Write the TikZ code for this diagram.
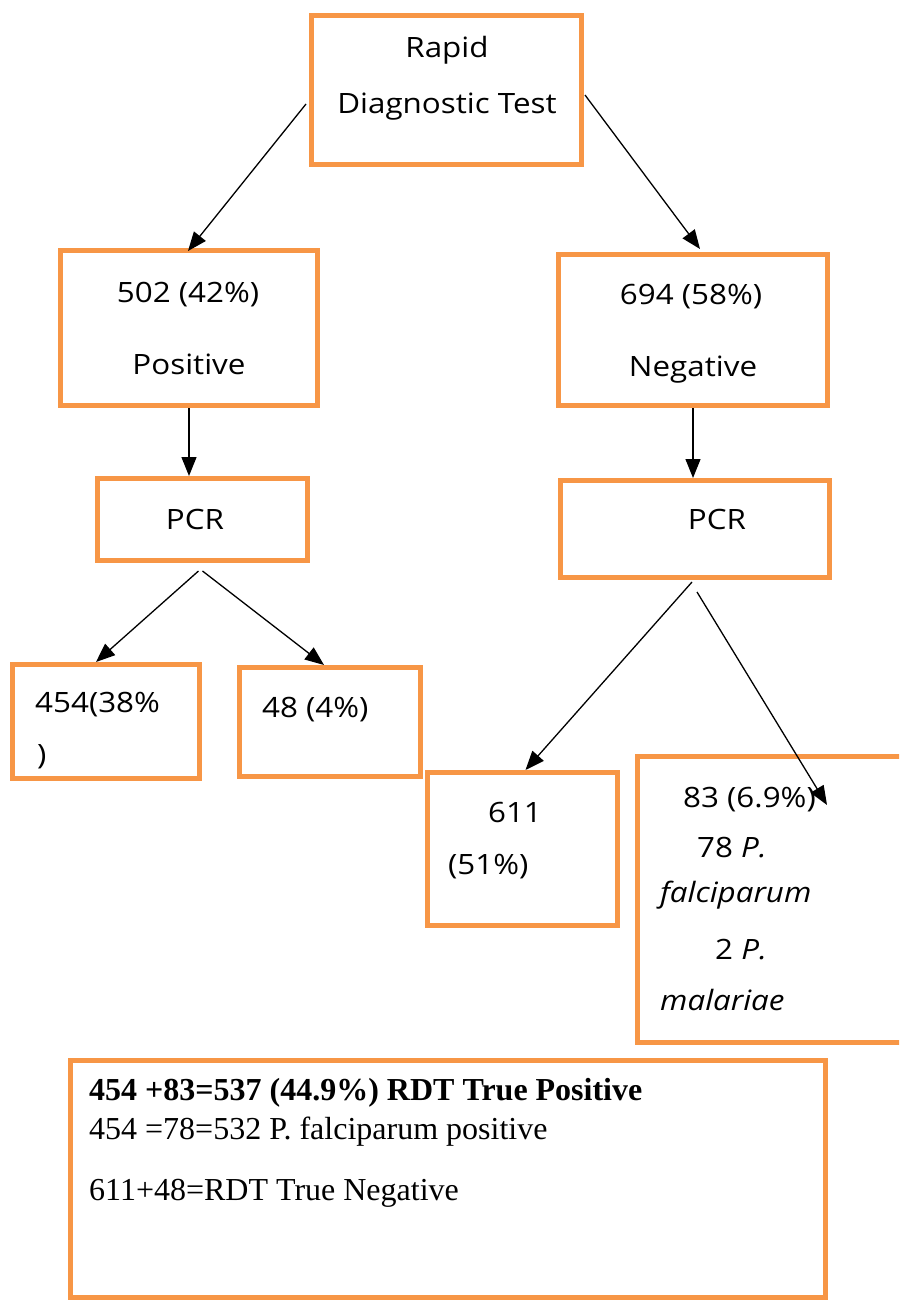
\documentclass[tikz,border=0pt]{standalone}
\usepackage{fontspec}
\setmainfont{Liberation Serif}
\newfontfamily\handfont[FakeStretch=1.12]{Open Sans}
\usetikzlibrary{arrows.meta,calc}
\definecolor{boxorange}{RGB}{247,150,70}
\begin{document}
\begin{tikzpicture}[x=1pt,y=-1pt,
  obox/.style={draw=boxorange,line width=5pt,rectangle,inner sep=0pt},
  hand/.style={font=\handfont\fontsize{28}{32}\selectfont,inner sep=0pt},
  note/.style={font=\fontsize{32}{36}\selectfont,inner sep=0pt,anchor=west},
  arr/.style={line width=1.3pt,-{Triangle[length=19pt,width=15pt]}}]
\useasboundingbox (0,0) rectangle (899,1300);
\clip (0,0) rectangle (899,1300);
\fill[white] (0,0) rectangle (899,1300);
% boxes
\node[obox,minimum width=270pt,minimum height=149pt] (rdt) at (446.5,90) {};
\node[obox,minimum width=257pt,minimum height=155pt] (pos) at (189,328) {};
\node[obox,minimum width=269pt,minimum height=151pt] (neg) at (693,330) {};
\node[obox,minimum width=210pt,minimum height=82pt] (pcrL) at (202.5,519.5) {};
\node[obox,minimum width=269pt,minimum height=97pt] (pcrR) at (695,529) {};
\node[obox,minimum width=187pt,minimum height=114pt] (b454) at (106,721.5) {};
\node[obox,minimum width=181pt,minimum height=109pt] (b48) at (330,722) {};
\node[obox,minimum width=190pt,minimum height=153pt] (b611) at (522.5,849) {};
\node[obox,minimum width=295pt,minimum height=286pt] (b83) at (785,899.5) {};
\node[obox,minimum width=755pt,minimum height=237pt] (sum) at (448,1179) {};
% texts
\node[hand] (t1) at (447,50) {Rapid};
\node[hand] (t2) at (447,107) {Diagnostic Test};
\node[hand] (t3) at (188,295) {502 (42\%)};
\node[hand] (t4) at (189,364) {Positive};
\node[hand] (t5) at (691,297) {694 (58\%)};
\node[hand] (t6) at (693,370) {Negative};
\node[hand] (t7) at (195,519) {PCR};
\node[hand] (t8) at (717,519) {PCR};
\node[hand,anchor=west] (t9) at (35,705) {454(38\%};
\node[hand,anchor=west] (t10) at (37,757) {)};
\node[hand,anchor=west] (t11) at (262,710) {48 (4\%)};
\node[hand] (t12) at (515,812) {611};
\node[hand,anchor=west] (t13) at (448,867) {(51\%)};
\node[hand,anchor=west] (t14) at (683,800) {83 (6.9\%)};
\node[hand,anchor=west] (t15) at (697,848) {78 \itshape P.};
\node[hand,anchor=west] (t16) at (660,895) {\itshape falciparum};
\node[hand,anchor=west] (t17) at (715,950) {2 \itshape P.};
\node[hand,anchor=west] (t18) at (660,1000) {\itshape malariae};
\node[note] (n1) at (89,1093) {\bfseries 454 +83=537 (44.9\%) RDT True Positive};
\node[note] (n2) at (89,1132) {454 =78=532 P. falciparum positive};
\node[note] (n3) at (89,1193) {611+48=RDT True Negative};
% connectors
\draw[arr] ([xshift=-3pt,yshift=-14pt]rdt.west) -- ([xshift=-1pt,yshift=-3pt]pos.north);
\draw[arr] ([xshift=1pt,yshift=-5pt]rdt.east) -- ([xshift=7pt,yshift=3pt]neg.north);
\draw[arr] (pos.south) -- (pos.south |- pcrL.north);
\draw[arr] (neg.south) -- (neg.south |- pcrR.north);
\draw[arr] ([xshift=-4pt,yshift=-8pt]pcrL.south) -- ([xshift=-10pt]b454.north);
\draw[arr] ([xshift=0pt,yshift=-8pt]pcrL.south) -- ([xshift=-6pt]b48.north);
\draw[arr] ([xshift=-3pt,yshift=-2pt]pcrR.south) -- ([xshift=3pt]b611.north);
\draw[arr] ([xshift=2pt,yshift=-12pt]pcrR.south) -- ([xshift=42pt,yshift=-51pt]b83.north);
\end{tikzpicture}
\end{document}
